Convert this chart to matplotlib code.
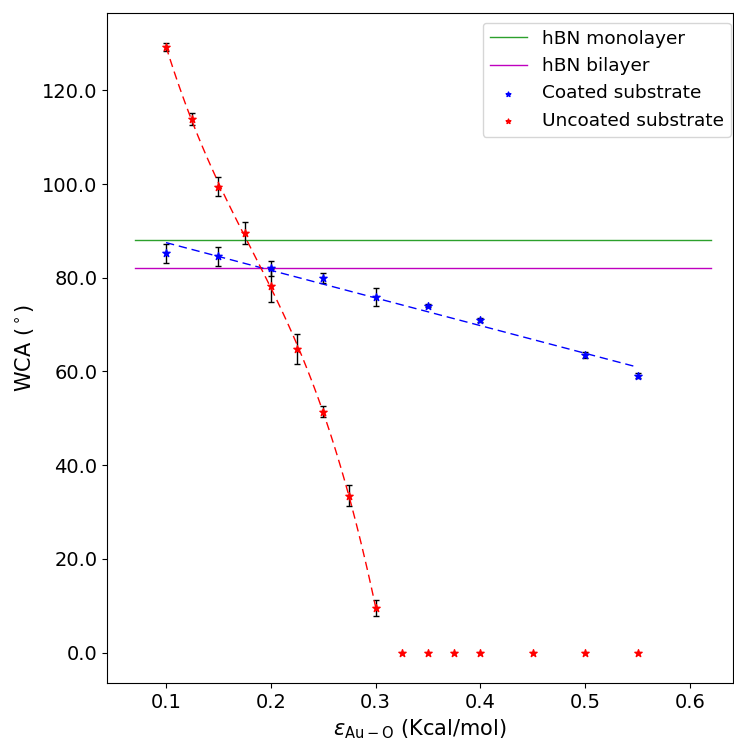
import numpy as np
import matplotlib
matplotlib.use('Agg')
import matplotlib.pyplot as plt

# interaction strength (Kcal/mol)
eps_coated = [0.1, 0.15, 0.2, 0.25, 0.3, 0.35, 0.4, 0.5, 0.55]
wca_coated = [85.2, 84.6, 82.0, 80.0, 75.8, 74.0, 71.0, 63.5, 59.1]
err_coated = [2.0, 2.0, 1.6, 1.1, 1.9, 0.3, 0.5, 0.6, 0.5]

eps_uncoated = [0.1, 0.125, 0.15, 0.175, 0.2, 0.225, 0.25, 0.275, 0.3,
                0.325, 0.35, 0.375, 0.4, 0.45, 0.5, 0.55]
wca_uncoated = [129.2, 113.9, 99.4, 89.5, 78.3, 64.8, 51.4, 33.5, 9.5,
                0, 0, 0, 0, 0, 0, 0]
err_uncoated = [0.8, 1.3, 2.0, 2.4, 3.5, 3.2, 1.2, 2.2, 1.8,
                0, 0, 0, 0, 0, 0, 0]

hbn_mono = 88.0
hbn_bi = 82.0
hbn_range = [0.07, 0.62]

plt.rcParams['font.size'] = 14

fig = plt.figure(figsize=(7.34, 7.42), dpi=100)
ax = fig.add_subplot(111)
fig.subplots_adjust(left=0.1458, right=0.9986, top=0.9825, bottom=0.0795)

l1, = ax.plot(hbn_range, [hbn_mono, hbn_mono], color='tab:green', lw=1)
l2, = ax.plot(hbn_range, [hbn_bi, hbn_bi], color='m', lw=1)

# error bars
ax.errorbar(eps_coated, wca_coated, yerr=err_coated, fmt='none', ecolor='k',
            elinewidth=1, capsize=2)
n = 9  # wetting points of uncoated substrate
ax.errorbar(eps_uncoated[:n], wca_uncoated[:n], yerr=err_uncoated[:n], fmt='none',
            ecolor='k', elinewidth=1, capsize=2)

s1 = ax.scatter(eps_coated, wca_coated, marker='*', color='b', s=30, zorder=3)
s2 = ax.scatter(eps_uncoated, wca_uncoated, marker='*', color='r', s=30, zorder=3)

# fits
p = np.polyfit(eps_coated, wca_coated, 1)
xf = np.linspace(eps_coated[0], eps_coated[-1], 100)
ax.plot(xf, np.polyval(p, xf), 'b--', lw=1, dashes=(6, 3.5))

p2 = np.polyfit(eps_uncoated[:n], wca_uncoated[:n], 3)
xf2 = np.linspace(eps_uncoated[0], eps_uncoated[n - 1], 100)
ax.plot(xf2, np.polyval(p2, xf2), 'r--', lw=1, dashes=(6, 3.5))

ax.set_xlim(0.0437, 0.641)
ax.yaxis.set_major_formatter(matplotlib.ticker.FormatStrFormatter('%.1f'))
ax.set_xlabel(r'$\varepsilon_{\mathrm{Au-O}}$ (Kcal/mol)', fontsize=15)
ax.set_ylabel(r'WCA ($^\circ$)', fontsize=15)

ax.legend([l1, l2, s1, s2],
          ['hBN monolayer', 'hBN bilayer', 'Coated substrate', 'Uncoated substrate'],
          loc='upper right', markerscale=0.65, fontsize=13.3,
          bbox_to_anchor=(731 / 734, 1 - 22.5 / 742), bbox_transform=fig.transFigure,
          borderaxespad=0)

plt.savefig('out.png', dpi=100)
